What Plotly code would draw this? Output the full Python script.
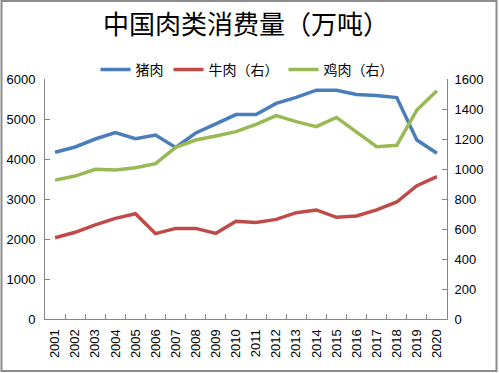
import plotly.graph_objects as go

years = [str(y) for y in range(2001, 2021)]
pork = [4170, 4300, 4500, 4660, 4510, 4600, 4290, 4650, 4880, 5110,
        5110, 5390, 5540, 5720, 5720, 5615, 5585, 5535, 4475, 4145]
beef = [542, 578, 627, 671, 702, 569, 604, 604, 571, 651,
        644, 664, 709, 727, 678, 687, 727, 780, 889, 949]
chicken = [926, 953, 998, 993, 1009, 1036, 1144, 1193, 1220, 1249,
           1298, 1356, 1316, 1282, 1344, 1249, 1149, 1158, 1393, 1522]

left_ticks = [0, 1000, 2000, 3000, 4000, 5000, 6000]
right_ticks = [0, 200, 400, 600, 800, 1000, 1200, 1400, 1600]

W, H = 499, 373
L, R, T, B = 45, 52, 79, 54
pw, ph = W - L - R, H - T - B

fig = go.Figure()
fig.add_trace(go.Scatter(x=years, y=pork, name="猪肉", mode="lines",
                         line=dict(color="#4A7EBB", width=3.5)))
fig.add_trace(go.Scatter(x=years, y=beef, name="牛肉（右）", mode="lines", yaxis="y2",
                         line=dict(color="#BE4B48", width=3.5)))
fig.add_trace(go.Scatter(x=years, y=chicken, name="鸡肉（右）", mode="lines", yaxis="y2",
                         line=dict(color="#98B954", width=3.5)))

axis_font = dict(family="Liberation Sans, Arial, sans-serif", size=13, color="#000000")
fig.update_layout(
    width=W, height=H,
    margin=dict(l=L, r=R, t=T, b=B, pad=0, autoexpand=False),
    paper_bgcolor="white", plot_bgcolor="white",
    title=dict(text="中国肉类消费量（万吨）", x=(246) / W, xanchor="center",
               y=1 - 25 / H, yanchor="middle",
               font=dict(family="Noto Sans CJK SC", size=26, color="#000000")),
    showlegend=True,
    legend=dict(orientation="h", x=(247 - L) / pw, xanchor="center",
                y=(319 - 70) / ph, yanchor="middle",
                font=dict(family="Noto Sans CJK SC", size=14, color="#000000"),
                itemwidth=30, bgcolor="rgba(0,0,0,0)", tracegroupgap=0),
    xaxis=dict(type="category", range=[-0.5, 19.5], tickangle=-90,
               tickson="boundaries", ticks="inside", ticklen=5, tickcolor="#868686",
               showline=True, linecolor="#868686", linewidth=1, showgrid=False,
               tickfont=axis_font, ticklabelstandoff=4, fixedrange=True,
               automargin=False),
    yaxis=dict(range=[0, 6000], tickvals=left_ticks, ticks="inside", ticklen=5,
               tickcolor="#868686", showline=True, linecolor="#868686", linewidth=1,
               showgrid=False, zeroline=False, tickfont=axis_font, ticklabelstandoff=6,
               automargin=False),
    yaxis2=dict(range=[0, 1600], tickvals=right_ticks, overlaying="y", side="right",
                ticks="inside", ticklen=5, tickcolor="#868686", showline=True,
                linecolor="#868686", linewidth=1, showgrid=False, zeroline=False,
                tickfont=axis_font, ticklabelstandoff=4, automargin=False),
    shapes=[dict(type="rect", xref="paper", yref="paper",
                 x0=(1.5 - L) / pw, x1=(496.5 - L) / pw,
                 y0=(319 - 371) / ph, y1=(319 - 1) / ph,
                 line=dict(color="#8C8C8C", width=2), fillcolor="rgba(0,0,0,0)")],
)

fig.write_html("out.html", config={"displayModeBar": False},
               post_script="document.body.style.margin='0';document.body.style.overflow='hidden';")
